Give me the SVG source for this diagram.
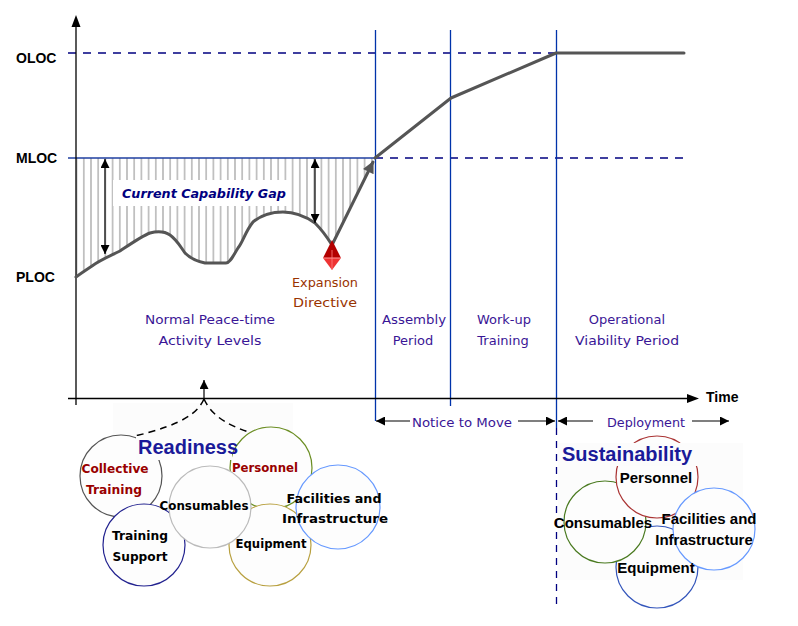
<svg xmlns="http://www.w3.org/2000/svg" width="798" height="626" viewBox="0 0 798 626">
<defs>
<style>
.axl{font-family:"Liberation Sans",Arial,sans-serif;font-weight:bold;font-size:14px;fill:#000}
.lbl{font-family:"DejaVu Sans",sans-serif;font-size:13px;fill:#3a1696;text-anchor:middle}
.exp{font-family:"DejaVu Sans",sans-serif;font-size:13px;fill:#993300;text-anchor:middle}
.gap{font-family:"DejaVu Sans",sans-serif;font-size:12.5px;font-weight:bold;font-style:italic;fill:#000080;text-anchor:middle}
.title{font-family:"Liberation Sans",Arial,sans-serif;font-weight:bold;font-size:20px;fill:#1a1a99;text-anchor:middle}
.rt{font-family:"DejaVu Sans",sans-serif;font-weight:bold;font-size:12px;fill:#000;text-anchor:middle}
.rr{font-family:"DejaVu Sans",sans-serif;font-weight:bold;font-size:12px;fill:#990000;text-anchor:middle}
.st{font-family:"Liberation Sans",Arial,sans-serif;font-weight:bold;font-size:15px;fill:#000;text-anchor:middle}
.br{font-family:"DejaVu Sans",sans-serif;font-size:13px;fill:#3a1696;text-anchor:middle}
.vl{stroke:#0033aa;stroke-width:1.3;fill:none}
.dash{stroke:#000080;stroke-width:1.3;stroke-dasharray:8,7;fill:none}
.cap{stroke:#555;stroke-width:3;fill:none;stroke-linejoin:round;stroke-linecap:round}
.thin{stroke:#000;stroke-width:1.2;fill:none}
.circ{fill:#fdfdfd;stroke-width:1.2}
.bg{fill:#fcfcfc}
</style>
<pattern id="hatch" x="1" y="0" width="7.2" height="10" patternUnits="userSpaceOnUse">
<line x1="3.6" y1="0" x2="3.6" y2="10" stroke="#a0a0a0" stroke-width="1.2"/>
</pattern>
<marker id="ah" viewBox="0 0 10 10" refX="10" refY="5" markerWidth="10" markerHeight="9" markerUnits="userSpaceOnUse" orient="auto-start-reverse">
<path d="M0,0 L10,5 L0,10 z" fill="#000"/>
</marker>
<marker id="gh" viewBox="0 0 10 10" refX="9" refY="5" markerWidth="14" markerHeight="12" markerUnits="userSpaceOnUse" orient="auto">
<path d="M0,0 L10,5 L0,10 z" fill="#555"/>
</marker>
</defs>
<rect width="798" height="626" fill="#fff"/>

<g id="backgrounds">
<rect class="bg" x="113" y="403" width="180" height="40"/>
<rect class="bg" x="558" y="443" width="185" height="137"/>
</g>

<g id="hatch-area">
<path d="M76,158 L375,158 L332,245 L315,223 C305,216 295,212 283,212 C270,212 260,216 253,222 C245,232 243,242 238,248 C233,256 230,263 226,263 L205,263 C195,261 190,258 185,253 C180,246 177,240 170,235 C164,231 158,231 150,233 C142,236 132,243 120,251 C110,256 100,260 92,266 C86,270 80,274 76,277 Z" fill="url(#hatch)"/>
</g>

<g id="grid">
<line class="dash" x1="68" y1="53" x2="684" y2="53"/>
<line x1="68" y1="158" x2="375" y2="158" stroke="#1f3fa0" stroke-width="1.3"/>
<line class="dash" x1="375" y1="158" x2="684" y2="158"/>
<line class="vl" x1="375.5" y1="30" x2="375.5" y2="421"/>
<line class="vl" x1="450.5" y1="30" x2="450.5" y2="406"/>
<line class="vl" x1="556.5" y1="30" x2="556.5" y2="428"/>
<line x1="556.5" y1="428" x2="556.5" y2="607" stroke="#000080" stroke-width="1.3" stroke-dasharray="7,6"/>
</g>

<g id="axes">
<line x1="76" y1="26" x2="76" y2="405" stroke="#000" stroke-width="1.3"/>
<polygon points="76,15 71.5,27 80.5,27" fill="#000"/>
<line x1="68" y1="398.5" x2="688" y2="398.5" stroke="#000" stroke-width="1.3"/>
<polygon points="699,398.5 687,394 687,403" fill="#000"/>
<text class="axl" x="706" y="402">Time</text>
<text class="axl" x="16" y="63">OLOC</text>
<text class="axl" x="16" y="163">MLOC</text>
<text class="axl" x="16" y="282">PLOC</text>
</g>

<g id="capability-curve">
<path class="cap" d="M76,277 C80,274 86,270 92,266 C100,260 110,256 120,251 C132,243 142,236 150,233 C158,231 164,231 170,235 C177,240 180,246 185,253 C190,258 195,261 205,263 L226,263 C230,263 233,256 238,248 C243,242 245,232 253,222 C260,216 270,212 283,212 C295,212 305,216 315,223 C322,230 327,237 332,245"/>
<line class="cap" x1="332" y1="245" x2="373" y2="162" marker-end="url(#gh)"/>
<polyline class="cap" points="375,158 451,98 556,53 684,53"/>
</g>

<g id="gap-label">
<rect x="113" y="180" width="174" height="26" fill="#fff"/>
<text class="gap" x="204" y="198" textLength="164" lengthAdjust="spacingAndGlyphs">Current Capability Gap</text>
</g>

<g id="gap-arrows">
<line class="thin" x1="105" y1="159" x2="105" y2="254" marker-start="url(#ah)" marker-end="url(#ah)"/>
<line class="thin" x1="315" y1="159" x2="315" y2="223" marker-start="url(#ah)" marker-end="url(#ah)"/>
</g>

<g id="expansion-directive">
<polygon points="332,240 323,258 341,258" fill="#b30000"/>
<polygon points="323,258 341,258 332,270" fill="#ee3333"/>
<line x1="323" y1="258" x2="341" y2="258" stroke="#ff9999" stroke-width="1"/>
<line x1="332" y1="250" x2="332" y2="270" stroke="#ff8080" stroke-width="0.8"/>
<text class="exp" x="325" y="287" textLength="66" lengthAdjust="spacingAndGlyphs">Expansion</text>
<text class="exp" x="325" y="307" textLength="64" lengthAdjust="spacingAndGlyphs">Directive</text>
</g>

<g id="phase-labels">
<text class="lbl" x="210" y="324" textLength="130" lengthAdjust="spacingAndGlyphs">Normal Peace-time</text>
<text class="lbl" x="210" y="345" textLength="103" lengthAdjust="spacingAndGlyphs">Activity Levels</text>
<text class="lbl" x="414" y="324" textLength="64" lengthAdjust="spacingAndGlyphs">Assembly</text>
<text class="lbl" x="413" y="345">Period</text>
<text class="lbl" x="504" y="324">Work-up</text>
<text class="lbl" x="503" y="345">Training</text>
<text class="lbl" x="627" y="324">Operational</text>
<text class="lbl" x="627" y="345" textLength="104" lengthAdjust="spacingAndGlyphs">Viability Period</text>
</g>

<g id="brackets">
<line class="thin" x1="376" y1="421" x2="410" y2="421" marker-start="url(#ah)"/>
<text class="br" x="462" y="427" textLength="100" lengthAdjust="spacingAndGlyphs">Notice to Move</text>
<line class="thin" x1="518" y1="421" x2="555" y2="421" marker-end="url(#ah)"/>
<line class="thin" x1="558" y1="421" x2="593" y2="421" marker-start="url(#ah)"/>
<text class="br" x="646" y="427" textLength="78" lengthAdjust="spacingAndGlyphs">Deployment</text>
<line class="thin" x1="692" y1="421" x2="729" y2="421" marker-end="url(#ah)"/>
</g>

<g id="connectors">
<line class="thin" x1="204" y1="398" x2="204" y2="380" marker-end="url(#ah)" stroke-width="1.5"/>
<path d="M204,399 C198,412 185,424 135,436" fill="none" stroke="#000" stroke-width="1.5" stroke-dasharray="7,5"/>
<path d="M204,399 C210,412 222,424 252,433" fill="none" stroke="#000" stroke-width="1.5" stroke-dasharray="7,5"/>
</g>

<g id="readiness">
<circle class="circ" cx="121" cy="476" r="41" stroke="#555"/>
<circle class="circ" cx="271" cy="468" r="41" stroke="#6b8e23"/>
<circle class="circ" cx="144" cy="545" r="41" stroke="#22228f"/>
<circle class="circ" cx="270" cy="545" r="41" stroke="#b8a040"/>
<circle class="circ" cx="210" cy="507" r="41" stroke="#bbb"/>
<circle class="circ" cx="338" cy="507" r="42" stroke="#6699ff"/>
<rect class="bg" x="136" y="436" width="96" height="24"/>
<text class="title" x="188" y="454">Readiness</text>
<text class="rr" x="115" y="473" textLength="67" lengthAdjust="spacingAndGlyphs">Collective</text>
<text class="rr" x="114" y="494" textLength="56" lengthAdjust="spacingAndGlyphs">Training</text>
<text class="rr" x="265" y="472" textLength="66" lengthAdjust="spacingAndGlyphs">Personnel</text>
<text class="rt" x="204" y="510" textLength="89" lengthAdjust="spacingAndGlyphs">Consumables</text>
<text class="rt" x="334" y="503" textLength="95" lengthAdjust="spacingAndGlyphs">Facilities and</text>
<text class="rt" x="335" y="523" textLength="106" lengthAdjust="spacingAndGlyphs">Infrastructure</text>
<text class="rt" x="140" y="540" textLength="56" lengthAdjust="spacingAndGlyphs">Training</text>
<text class="rt" x="140" y="561" textLength="55" lengthAdjust="spacingAndGlyphs">Support</text>
<text class="rt" x="271" y="548" textLength="71" lengthAdjust="spacingAndGlyphs">Equipment</text>
</g>

<g id="sustainability">
<circle class="circ" cx="657" cy="567" r="41" stroke="#3355bb"/>
<circle class="circ" cx="605" cy="522" r="41" stroke="#4a7a20"/>
<circle class="circ" cx="657" cy="477" r="41" stroke="#aa3333"/>
<circle class="circ" cx="714" cy="529" r="41" stroke="#6699ff"/>
<rect class="bg" x="558" y="443" width="185" height="23"/>
<text class="title" x="627" y="461">Sustainability</text>
<text class="st" x="656" y="483">Personnel</text>
<text class="st" x="603" y="528">Consumables</text>
<text class="st" x="709" y="524">Facilities and</text>
<text class="st" x="704" y="545">Infrastructure</text>
<text class="st" x="656" y="573">Equipment</text>
</g>
</svg>
